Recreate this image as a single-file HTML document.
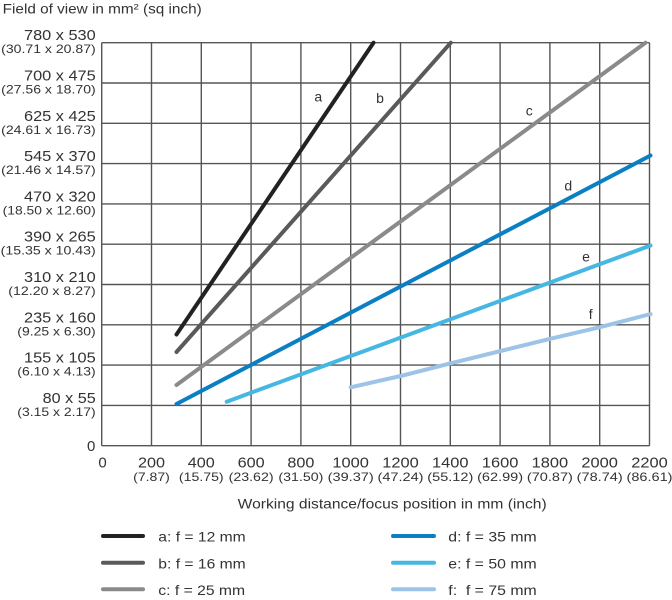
<!DOCTYPE html>
<html>
<head>
<meta charset="utf-8">
<style>
  html,body{margin:0;padding:0;background:#fff;}
  svg{display:block;}
  text{font-family:"Liberation Sans",Arial,sans-serif;fill:#333;}
</style>
</head>
<body>
<svg width="672" height="600" viewBox="0 0 672 600" xmlns="http://www.w3.org/2000/svg">
  <!-- Title -->
  <text x="2.7" y="13.5" font-size="14" textLength="199" lengthAdjust="spacingAndGlyphs">Field of view in mm² (sq inch)</text>

  <!-- Grid -->
  <g stroke="#555" stroke-width="1.4" fill="none">
    <line x1="101.7" y1="42.7" x2="101.7" y2="445.7"/>
    <line x1="151.5" y1="42.7" x2="151.5" y2="445.7"/>
    <line x1="201.3" y1="42.7" x2="201.3" y2="445.7"/>
    <line x1="251.1" y1="42.7" x2="251.1" y2="445.7"/>
    <line x1="300.9" y1="42.7" x2="300.9" y2="445.7"/>
    <line x1="350.7" y1="42.7" x2="350.7" y2="445.7"/>
    <line x1="400.5" y1="42.7" x2="400.5" y2="445.7"/>
    <line x1="450.3" y1="42.7" x2="450.3" y2="445.7"/>
    <line x1="500.1" y1="42.7" x2="500.1" y2="445.7"/>
    <line x1="549.9" y1="42.7" x2="549.9" y2="445.7"/>
    <line x1="599.7" y1="42.7" x2="599.7" y2="445.7"/>
    <line x1="649.5" y1="42.7" x2="649.5" y2="445.7"/>

    <line x1="101.7" y1="445.7" x2="649.5" y2="445.7"/>
    <line x1="101.7" y1="405.4" x2="649.5" y2="405.4"/>
    <line x1="101.7" y1="365.1" x2="649.5" y2="365.1"/>
    <line x1="101.7" y1="324.8" x2="649.5" y2="324.8"/>
    <line x1="101.7" y1="284.5" x2="649.5" y2="284.5"/>
    <line x1="101.7" y1="244.2" x2="649.5" y2="244.2"/>
    <line x1="101.7" y1="203.9" x2="649.5" y2="203.9"/>
    <line x1="101.7" y1="163.6" x2="649.5" y2="163.6"/>
    <line x1="101.7" y1="123.3" x2="649.5" y2="123.3"/>
    <line x1="101.7" y1="83" x2="649.5" y2="83"/>
    <line x1="101.7" y1="42.7" x2="649.5" y2="42.7"/>
  </g>

  <!-- Series -->
  <g fill="none" stroke-width="4" stroke-linecap="round" stroke-linejoin="round">
    <line x1="176.5" y1="334.5" x2="373.5" y2="42.7" stroke="#222"/>
    <line x1="176.5" y1="352" x2="450.8" y2="42.7" stroke="#5a5a5a"/>
    <line x1="176.5" y1="385" x2="645.5" y2="42.7" stroke="#8a8a8a"/>
    <line x1="176.5" y1="404" x2="650.5" y2="155.5" stroke="#0a7fc4"/>
    <line x1="226.7" y1="401.7" x2="650.5" y2="245.5" stroke="#46b7e2"/>
    <polyline points="350.7,387.3 400.7,376 450.7,363.3 500.7,351 550.7,338.7 599.3,327.3 650.5,314" stroke="#9dc3e8"/>
  </g>

  <!-- Series labels -->
  <g font-size="14">
    <text x="318.3" y="101.5" text-anchor="middle">a</text>
    <text x="380" y="103" text-anchor="middle">b</text>
    <text x="529.3" y="115.5" text-anchor="middle">c</text>
    <text x="568.3" y="190.5" text-anchor="middle">d</text>
    <text x="586" y="261.5" text-anchor="middle">e</text>
    <text x="590.7" y="319" text-anchor="middle">f</text>
  </g>

  <!-- Y labels -->
  <g font-size="15" text-anchor="end">
    <text x="95.7" y="40.2" textLength="71.7" lengthAdjust="spacingAndGlyphs">780 x 530</text>
    <text x="95.7" y="80.5" textLength="71.7" lengthAdjust="spacingAndGlyphs">700 x 475</text>
    <text x="95.7" y="120.8" textLength="71.7" lengthAdjust="spacingAndGlyphs">625 x 425</text>
    <text x="95.7" y="161.1" textLength="71.7" lengthAdjust="spacingAndGlyphs">545 x 370</text>
    <text x="95.7" y="201.4" textLength="71.7" lengthAdjust="spacingAndGlyphs">470 x 320</text>
    <text x="95.7" y="241.7" textLength="71.7" lengthAdjust="spacingAndGlyphs">390 x 265</text>
    <text x="95.7" y="282" textLength="71.7" lengthAdjust="spacingAndGlyphs">310 x 210</text>
    <text x="95.7" y="322.3" textLength="71.7" lengthAdjust="spacingAndGlyphs">235 x 160</text>
    <text x="95.7" y="362.6" textLength="71.7" lengthAdjust="spacingAndGlyphs">155 x 105</text>
    <text x="95.7" y="402.9" textLength="53" lengthAdjust="spacingAndGlyphs">80 x 55</text>
    <text x="95.3" y="451">0</text>
  </g>
  <g font-size="12" text-anchor="end">
    <text x="95.7" y="53.2" textLength="94.5" lengthAdjust="spacingAndGlyphs">(30.71 x 20.87)</text>
    <text x="95.7" y="93.5" textLength="94.5" lengthAdjust="spacingAndGlyphs">(27.56 x 18.70)</text>
    <text x="95.7" y="133.8" textLength="94.5" lengthAdjust="spacingAndGlyphs">(24.61 x 16.73)</text>
    <text x="95.7" y="174.1" textLength="94.5" lengthAdjust="spacingAndGlyphs">(21.46 x 14.57)</text>
    <text x="95.7" y="214.4" textLength="93" lengthAdjust="spacingAndGlyphs">(18.50 x 12.60)</text>
    <text x="95.7" y="254.7" textLength="95" lengthAdjust="spacingAndGlyphs">(15.35 x 10.43)</text>
    <text x="95.7" y="295" textLength="87.4" lengthAdjust="spacingAndGlyphs">(12.20 x 8.27)</text>
    <text x="95.7" y="335.3" textLength="78.4" lengthAdjust="spacingAndGlyphs">(9.25 x 6.30)</text>
    <text x="95.7" y="375.6" textLength="78.4" lengthAdjust="spacingAndGlyphs">(6.10 x 4.13)</text>
    <text x="95.7" y="415.9" textLength="78.4" lengthAdjust="spacingAndGlyphs">(3.15 x 2.17)</text>
  </g>

  <!-- X labels -->
  <g font-size="15" text-anchor="middle">
    <text x="102.5" y="467.3">0</text>
    <text x="151.5" y="467.3" textLength="27" lengthAdjust="spacingAndGlyphs">200</text>
    <text x="201.3" y="467.3" textLength="27" lengthAdjust="spacingAndGlyphs">400</text>
    <text x="251.1" y="467.3" textLength="27" lengthAdjust="spacingAndGlyphs">600</text>
    <text x="300.9" y="467.3" textLength="27" lengthAdjust="spacingAndGlyphs">800</text>
    <text x="350.7" y="467.3" textLength="36.5" lengthAdjust="spacingAndGlyphs">1000</text>
    <text x="400.5" y="467.3" textLength="36.5" lengthAdjust="spacingAndGlyphs">1200</text>
    <text x="450.3" y="467.3" textLength="36.5" lengthAdjust="spacingAndGlyphs">1400</text>
    <text x="500.1" y="467.3" textLength="36.5" lengthAdjust="spacingAndGlyphs">1600</text>
    <text x="549.9" y="467.3" textLength="36.5" lengthAdjust="spacingAndGlyphs">1800</text>
    <text x="599.7" y="467.3" textLength="36.5" lengthAdjust="spacingAndGlyphs">2000</text>
    <text x="649.5" y="467.3" textLength="36.5" lengthAdjust="spacingAndGlyphs">2200</text>
  </g>
  <g font-size="12" text-anchor="middle">
    <text x="151.5" y="481" textLength="36.7" lengthAdjust="spacingAndGlyphs">(7.87)</text>
    <text x="201.3" y="481" textLength="44.7" lengthAdjust="spacingAndGlyphs">(15.75)</text>
    <text x="251.1" y="481" textLength="45" lengthAdjust="spacingAndGlyphs">(23.62)</text>
    <text x="300.9" y="481" textLength="45" lengthAdjust="spacingAndGlyphs">(31.50)</text>
    <text x="350.7" y="481" textLength="46" lengthAdjust="spacingAndGlyphs">(39.37)</text>
    <text x="400.5" y="481" textLength="46" lengthAdjust="spacingAndGlyphs">(47.24)</text>
    <text x="450.3" y="481" textLength="46" lengthAdjust="spacingAndGlyphs">(55.12)</text>
    <text x="500.1" y="481" textLength="46" lengthAdjust="spacingAndGlyphs">(62.99)</text>
    <text x="549.9" y="481" textLength="46" lengthAdjust="spacingAndGlyphs">(70.87)</text>
    <text x="599.7" y="481" textLength="46" lengthAdjust="spacingAndGlyphs">(78.74)</text>
    <text x="649.5" y="481" textLength="46" lengthAdjust="spacingAndGlyphs">(86.61)</text>
  </g>

  <!-- X axis title -->
  <text x="237.7" y="508.3" font-size="14" textLength="309" lengthAdjust="spacingAndGlyphs">Working distance/focus position in mm (inch)</text>

  <!-- Legend -->
  <g fill="none" stroke-width="4" stroke-linecap="round">
    <line x1="103" y1="536" x2="143" y2="536" stroke="#222"/>
    <line x1="103" y1="562.7" x2="143" y2="562.7" stroke="#5a5a5a"/>
    <line x1="103" y1="589.3" x2="143" y2="589.3" stroke="#8a8a8a"/>
    <line x1="393" y1="536" x2="434" y2="536" stroke="#0a7fc4"/>
    <line x1="393" y1="562.7" x2="434" y2="562.7" stroke="#46b7e2"/>
    <line x1="393" y1="589.3" x2="434" y2="589.3" stroke="#9dc3e8"/>
  </g>
  <g font-size="14">
    <text x="158.3" y="541.7" textLength="87.4" lengthAdjust="spacingAndGlyphs">a: f = 12 mm</text>
    <text x="158.3" y="568.4" textLength="87.4" lengthAdjust="spacingAndGlyphs">b: f = 16 mm</text>
    <text x="158.3" y="595" textLength="86.8" lengthAdjust="spacingAndGlyphs">c: f = 25 mm</text>
    <text x="448.3" y="541.7" textLength="88.4" lengthAdjust="spacingAndGlyphs">d: f = 35 mm</text>
    <text x="448.3" y="568.4" textLength="88.4" lengthAdjust="spacingAndGlyphs">e: f = 50 mm</text>
    <text x="448.3" y="595" textLength="88.4" lengthAdjust="spacingAndGlyphs" xml:space="preserve">f:  f = 75 mm</text>
  </g>
</svg>
</body>
</html>
